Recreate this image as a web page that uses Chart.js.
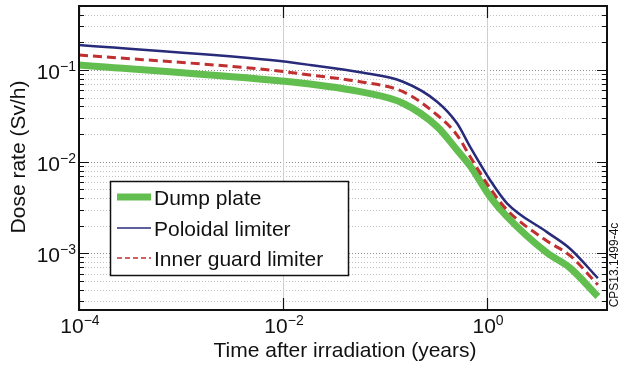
<!DOCTYPE html>
<html>
<head>
<meta charset="utf-8">
<script src="https://cdn.jsdelivr.net/npm/chart.js@4"></script>
<style>
  html, body { margin: 0; padding: 0; background: #fff; }
  canvas { display: block; }
</style>
</head>
<body>
<canvas id="chart" width="620" height="367"></canvas>
<script>
// values (time in years, dose rate in Sv/h)
const timeYears = [1e-4, 0.0075, 0.0184, 0.057, 0.15, 0.324, 0.508, 0.681, 1.07, 1.57, 3.87, 6.52, 12.2];
const dumpPlate = [0.1135, 0.0778, 0.0703, 0.058, 0.0434, 0.0241, 0.0134, 0.009, 0.00415, 0.00251, 0.00101, 6.9e-4, 3.37e-4];
const poloidalLimiter = [0.1875, 0.1285, 0.1135, 0.0944, 0.0745, 0.0451, 0.0262, 0.0146, 0.00631, 0.00351, 0.0017, 0.00112, 5.35e-4];
const innerGuardLimiter = [0.146, 0.1, 0.0882, 0.0745, 0.058, 0.0323, 0.0195, 0.0114, 0.00513, 0.00297, 0.00136, 9.4e-4, 4.52e-4];

const seriesNames = ['Dump plate', 'Poloidal limiter', 'Inner guard limiter'];
const xTickValues = [1e-4, 1e-2, 1e0];
const xTickExps = ['\u22124', '\u22122', '0'];
const yTickValues = [1e-1, 1e-2, 1e-3];
const yTickExps = ['\u22121', '\u22122', '\u22123'];

const xTitle = 'Time after irradiation (years)';
const yTitle = 'Dose rate (Sv/h)';
const sideNote = 'CPS13.1499-4c';

const FONT = '"Liberation Sans", Arial, Helvetica, sans-serif';

function toPoints(ys) {
  return timeYears.map((t, i) => ({ x: t, y: ys[i] }));
}

// draws "10" with a raised exponent, anchored by align ('center' or 'right')
function drawPower(ctx, exp, x, baseline, align) {
  ctx.font = '21px ' + FONT;
  const wBase = ctx.measureText('10').width;
  ctx.font = '14px ' + FONT;
  const wExp = ctx.measureText(exp).width;
  const total = wBase + wExp;
  let left = align === 'right' ? x - total : x - total / 2;
  ctx.textAlign = 'left';
  ctx.textBaseline = 'alphabetic';
  ctx.font = '21px ' + FONT;
  ctx.fillText('10', left, baseline);
  ctx.font = '14px ' + FONT;
  ctx.fillText(exp, left + wBase, baseline - 8);
}

const decoPlugin = {
  id: 'deco',
  beforeDatasetsDraw(chart) {
    const ctx = chart.ctx;
    const a = chart.chartArea;
    const xs = chart.scales.x, ys = chart.scales.y;
    ctx.save();
    // horizontal dotted grid at every 1..9 x 10^n
    ctx.lineWidth = 1;
    ctx.setLineDash([1, 2]);
    for (let e = -4; e <= 0; e++) {
      for (let m = 1; m <= 9; m++) {
        const v = m * Math.pow(10, e);
        if (v < ys.min || v > ys.max) continue;
        const py = Math.round(ys.getPixelForValue(v)) + 0.5;
        ctx.strokeStyle = m === 1 ? '#8c8c8c' : '#c2c2c2';
        ctx.beginPath();
        ctx.moveTo(a.left, py);
        ctx.lineTo(a.right, py);
        ctx.stroke();
      }
    }
    // vertical grid at major x ticks
    ctx.setLineDash([]);
    ctx.strokeStyle = '#cfcfcf';
    xTickValues.forEach(v => {
      const px = Math.round(xs.getPixelForValue(v)) + 0.5;
      if (px <= a.left + 1) return;
      ctx.beginPath();
      ctx.moveTo(px, a.top);
      ctx.lineTo(px, a.bottom);
      ctx.stroke();
    });
    ctx.restore();
  },
  afterDatasetsDraw(chart) {
    const ctx = chart.ctx;
    const a = chart.chartArea;
    const xs = chart.scales.x, ys = chart.scales.y;
    ctx.save();
    ctx.setLineDash([]);
    ctx.strokeStyle = '#111';
    ctx.fillStyle = '#111';

    // y ticks (inward, both sides)
    ctx.lineWidth = 1.2;
    for (let e = -4; e <= 0; e++) {
      for (let m = 1; m <= 9; m++) {
        const v = m * Math.pow(10, e);
        if (v < ys.min || v > ys.max) continue;
        const py = Math.round(ys.getPixelForValue(v)) + 0.5;
        const len = m === 1 ? 10 : 5;
        ctx.beginPath();
        ctx.moveTo(a.left, py); ctx.lineTo(a.left + len, py);
        ctx.moveTo(a.right, py); ctx.lineTo(a.right - len, py);
        ctx.stroke();
      }
    }
    // x ticks at majors
    xTickValues.forEach(v => {
      const px = Math.round(xs.getPixelForValue(v)) + 0.5;
      ctx.beginPath();
      ctx.moveTo(px, a.bottom); ctx.lineTo(px, a.bottom - 12);
      ctx.moveTo(px, a.top); ctx.lineTo(px, a.top + 12);
      ctx.stroke();
    });

    // frame
    ctx.lineWidth = 2;
    ctx.strokeRect(a.left, a.top, a.right - a.left, a.bottom - a.top);

    // tick labels
    xTickValues.forEach((v, i) => {
      drawPower(ctx, xTickExps[i], xs.getPixelForValue(v) + 1, a.bottom + 23, 'center');
    });
    yTickValues.forEach((v, i) => {
      drawPower(ctx, yTickExps[i], a.left - 3, ys.getPixelForValue(v) + 9, 'right');
    });

    // axis titles
    ctx.font = '21px ' + FONT;
    ctx.textAlign = 'center';
    ctx.textBaseline = 'alphabetic';
    ctx.fillText(xTitle, (a.left + a.right) / 2 + 2, 357);
    ctx.save();
    ctx.translate(25, 157);
    ctx.rotate(-Math.PI / 2);
    ctx.fillText(yTitle, 0, 0);
    ctx.restore();

    // side note
    ctx.save();
    ctx.font = '12px ' + FONT;
    ctx.translate(618, 265);
    ctx.rotate(-Math.PI / 2);
    ctx.fillText(sideNote, 0, 0);
    ctx.restore();

    // legend box
    const lx = 110.5, ly = 181.5, lw = 238, lh = 94;
    ctx.fillStyle = '#fff';
    ctx.fillRect(lx, ly, lw, lh);
    ctx.lineWidth = 1.5;
    ctx.strokeStyle = '#111';
    ctx.strokeRect(lx, ly, lw, lh);
    const rows = [197, 228, 258];
    chart.data.datasets.forEach((ds, i) => {
      const y = rows[i];
      ctx.save();
      ctx.strokeStyle = ds.borderColor;
      ctx.lineWidth = i === 0 ? 7 : 1.5;
      ctx.setLineDash(i === 2 ? [5, 3] : []);
      ctx.beginPath();
      ctx.moveTo(117, y);
      ctx.lineTo(151, y);
      ctx.stroke();
      ctx.restore();
      ctx.fillStyle = '#111';
      ctx.font = '21px ' + FONT;
      ctx.textAlign = 'left';
      ctx.textBaseline = 'alphabetic';
      ctx.fillText(ds.label, 154, y + 8);
    });
    ctx.restore();
  }
};

new Chart(document.getElementById('chart'), {
  type: 'line',
  data: {
    datasets: [
      {
        label: seriesNames[0],
        data: toPoints(dumpPlate),
        borderColor: 'rgb(98, 190, 78)',
        borderWidth: 7,
        pointRadius: 0,
        cubicInterpolationMode: 'monotone',
        borderJoinStyle: 'round',
        order: 2
      },
      {
        label: seriesNames[1],
        data: toPoints(poloidalLimiter),
        borderColor: 'rgb(40, 42, 122)',
        borderWidth: 2.5,
        pointRadius: 0,
        cubicInterpolationMode: 'monotone',
        order: 1
      },
      {
        label: seriesNames[2],
        data: toPoints(innerGuardLimiter),
        borderColor: 'rgb(192, 48, 48)',
        borderWidth: 3,
        borderDash: [9, 5],
        pointRadius: 0,
        cubicInterpolationMode: 'monotone',
        order: 0
      }
    ]
  },
  options: {
    responsive: false,
    animation: false,
    layout: { padding: { left: 79, top: 6, right: 13, bottom: 57 } },
    plugins: { legend: { display: false }, tooltip: { enabled: false } },
    scales: {
      x: { type: 'logarithmic', min: 1e-4, max: 15, display: false },
      y: { type: 'logarithmic', min: 2.4e-4, max: 0.5, display: false }
    }
  },
  plugins: [decoPlugin]
});
</script>
</body>
</html>
